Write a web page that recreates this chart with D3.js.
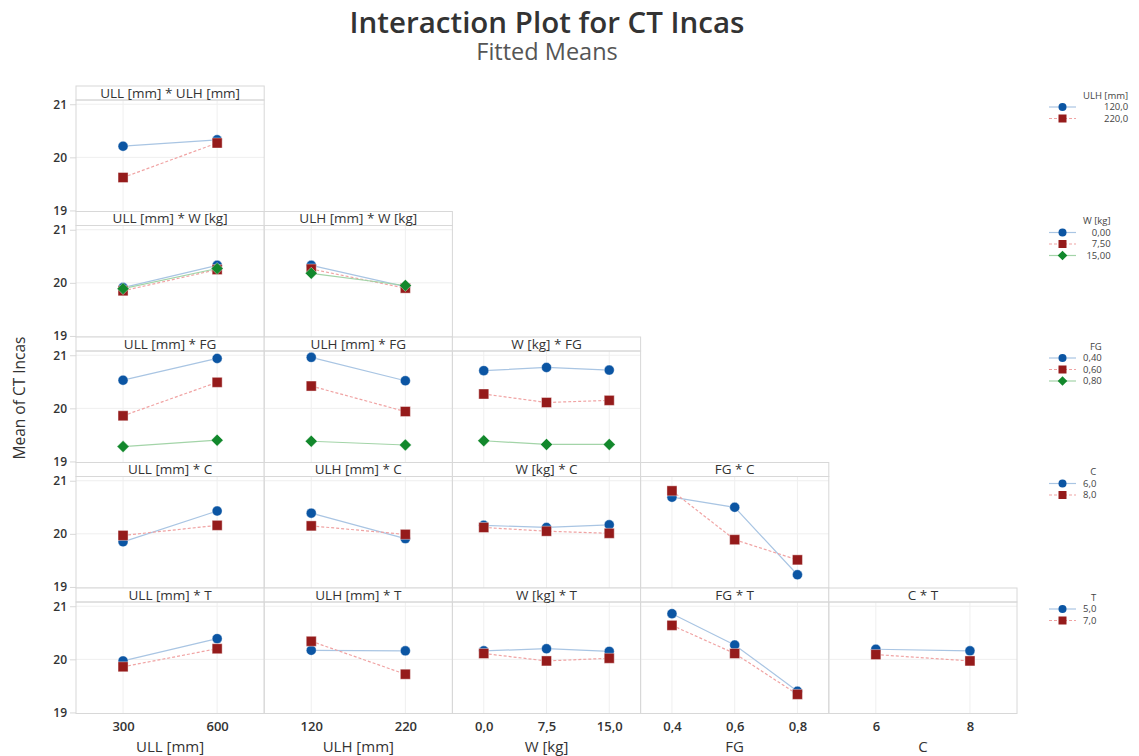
<!DOCTYPE html>
<html>
<head>
<meta charset="utf-8">
<script src="https://cdn.jsdelivr.net/npm/d3@7/dist/d3.min.js"></script>
<style>
  html, body { margin: 0; padding: 0; background: #fff; }
  svg { display: block; font-family: "Open Sans", "Noto Sans", sans-serif; }
</style>
</head>
<body>
<svg id="chart" width="1139" height="756"></svg>
<script>
// Factors on the x axis (columns) and trace factors (rows)
const xFactors = ["ULL [mm]", "ULH [mm]", "W [kg]", "FG", "C"];
const traceFactors = ["ULH [mm]", "W [kg]", "FG", "C", "T"];

// Tick labels for each x factor
const ullLevels = ["300", "600"];
const ulhLevels = ["120", "220"];
const wLevels = ["0,0", "7,5", "15,0"];
const fgLevels = ["0,4", "0,6", "0,8"];
const cLevels = ["6", "8"];

// Legend labels for each trace factor
const ulhTrace = ["120,0", "220,0"];
const wTrace = ["0,00", "7,50", "15,00"];
const fgTrace = ["0,40", "0,60", "0,80"];
const cTrace = ["6,0", "8,0"];
const tTrace = ["5,0", "7,0"];

// Fitted means: one inner array per trace level, one value per x level
const ullXulh = [[20.21, 20.33], [19.62, 20.27]];

const ullXw = [[19.91, 20.33], [19.85, 20.25], [19.89, 20.27]];
const ulhXw = [[20.33, 19.93], [20.26, 19.90], [20.18, 19.95]];

const ullXfg = [[20.53, 20.94], [19.86, 20.49], [19.28, 19.40]];
const ulhXfg = [[20.96, 20.52], [20.42, 19.94], [19.38, 19.31]];
const wXfg = [[20.71, 20.77, 20.72], [20.27, 20.11, 20.15], [19.39, 19.32, 19.32]];

const ullXc = [[19.85, 20.43], [19.97, 20.16]];
const ulhXc = [[20.39, 19.91], [20.15, 19.99]];
const wXc = [[20.16, 20.12, 20.17], [20.12, 20.05, 20.01]];
const fgXc = [[20.69, 20.50, 19.23], [20.81, 19.89, 19.51]];

const ullXt = [[19.97, 20.39], [19.86, 20.20]];
const ulhXt = [[20.17, 20.16], [20.34, 19.72]];
const wXt = [[20.16, 20.20, 20.15], [20.11, 19.97, 20.02]];
const fgXt = [[20.86, 20.27, 19.40], [20.64, 20.11, 19.34]];
const cXt = [[20.19, 20.16], [20.09, 19.97]];

const yTicks = [19, 20, 21];

// ---- assemble the grid ----
const xLevels = [ullLevels, ulhLevels, wLevels, fgLevels, cLevels];
const traceLevels = [ulhTrace, wTrace, fgTrace, cTrace, tTrace];
const panelData = [
  [ullXulh],
  [ullXw, ulhXw],
  [ullXfg, ulhXfg, wXfg],
  [ullXc, ulhXc, wXc, fgXc],
  [ullXt, ulhXt, wXt, fgXt, cXt]
];

const svg = d3.select("#chart");

const left = 76, colW = 188.2, top0 = 86, rowH = 125.5, stripH = 14;
const frameColor = "#d8d8d8", gridColor = "#efefef";

// Series styles: blue circles (solid), red squares (dashed), green diamonds (solid)
const styles = [
  { fill: "#0b55a3", line: "#a9c5e3", dash: null, shape: "circle" },
  { fill: "#951b1b", line: "#f0a3a3", dash: "3,2", shape: "square" },
  { fill: "#12882c", line: "#a3d4a8", dash: null, shape: "diamond" }
];

function markerPath(shape, s) {
  if (shape === "circle") return d3.symbol(d3.symbolCircle, Math.PI * s * s)();
  if (shape === "square") return d3.symbol(d3.symbolSquare, (2 * s) * (2 * s))();
  const d = s * 1.2;
  return `M0,${-d}L${d},0L0,${d}L${-d},0Z`;
}

// Title block
svg.append("text")
  .attr("x", 547).attr("y", 33)
  .attr("text-anchor", "middle")
  .attr("font-size", 29.5).attr("font-weight", 600).attr("fill", "#333")
  .text("Interaction Plot for CT Incas");
svg.append("text")
  .attr("x", 547).attr("y", 60)
  .attr("text-anchor", "middle")
  .attr("font-size", 23.5).attr("fill", "#555")
  .text("Fitted Means");

// Y axis title
svg.append("text")
  .attr("transform", "translate(25,398) rotate(-90)")
  .attr("text-anchor", "middle")
  .attr("font-size", 15.5).attr("fill", "#333")
  .text("Mean of CT Incas");

const line = d3.line();

panelData.forEach((rowPanels, r) => {
  const rowTop = top0 + r * rowH;
  const plotTop = rowTop + stripH;
  const plotBottom = rowTop + rowH;
  const y = d3.scaleLinear().domain([18.98, 21.08]).range([plotBottom, plotTop]);

  // y axis for the row
  const yAxis = d3.axisLeft(y).tickValues(yTicks).tickSize(6).tickPadding(3).tickFormat(d3.format("d"));
  const ga = svg.append("g").attr("transform", `translate(${left},0)`).call(yAxis);
  ga.select(".domain").remove();
  ga.selectAll(".tick line").attr("stroke", frameColor);
  ga.selectAll(".tick text").attr("font-size", 12).attr("font-weight", 600)
    .attr("fill", "#333").attr("font-family", "'Open Sans', sans-serif");

  rowPanels.forEach((series, c) => {
    const x0 = left + c * colW;
    const x = d3.scalePoint().domain(xLevels[c]).range([x0, x0 + colW]).padding(0.5);
    const g = svg.append("g");

    // gridlines
    g.selectAll(".hg").data([20, 21]).join("line")
      .attr("x1", x0).attr("x2", x0 + colW)
      .attr("y1", d => y(d)).attr("y2", d => y(d))
      .attr("stroke", gridColor).attr("stroke-width", 1);
    g.selectAll(".vg").data(xLevels[c]).join("line")
      .attr("x1", d => x(d)).attr("x2", d => x(d))
      .attr("y1", plotTop).attr("y2", plotBottom)
      .attr("stroke", gridColor).attr("stroke-width", 1);

    // strip and frame
    g.append("rect").attr("x", x0).attr("y", rowTop).attr("width", colW).attr("height", stripH)
      .attr("fill", "#fff").attr("stroke", frameColor);
    g.append("rect").attr("x", x0).attr("y", plotTop).attr("width", colW).attr("height", rowH - stripH)
      .attr("fill", "none").attr("stroke", frameColor);
    g.append("text")
      .attr("x", x0 + colW / 2).attr("y", rowTop + stripH / 2 + 4.5)
      .attr("text-anchor", "middle").attr("font-size", 13.5).attr("fill", "#333")
      .text(`${xFactors[c]} * ${traceFactors[r]}`);

    // traces
    series.forEach((vals, k) => {
      const st = styles[k];
      const pts = vals.map((v, i) => [x(xLevels[c][i]), y(v)]);
      g.append("path").attr("d", line(pts)).attr("fill", "none")
        .attr("stroke", st.line).attr("stroke-width", 1.2)
        .attr("stroke-dasharray", st.dash);
    });
    series.forEach((vals, k) => {
      const st = styles[k];
      g.selectAll(null).data(vals).join("path")
        .attr("transform", (v, i) => `translate(${x(xLevels[c][i])},${y(v)})`)
        .attr("d", markerPath(st.shape, 5))
        .attr("fill", st.fill)
        .attr("stroke", "#fff").attr("stroke-width", 0.4);
    });

    // bottom axis on last row
    if (r === panelData.length - 1) {
      const xa = d3.axisBottom(x).tickSize(0).tickPadding(8);
      const gx = svg.append("g").attr("transform", `translate(0,${plotBottom})`).call(xa);
      gx.select(".domain").remove();
      gx.selectAll(".tick text").attr("font-size", 13).attr("font-weight", 600)
        .attr("fill", "#333").attr("font-family", "'Open Sans', sans-serif");
      svg.append("text")
        .attr("x", x0 + colW / 2).attr("y", 752)
        .attr("text-anchor", "middle").attr("font-size", 15).attr("fill", "#333")
        .text(xFactors[c]);
    }
  });

  // legend for the row's trace factor
  const lg = svg.append("g").attr("font-size", 9.5).attr("fill", "#444");
  const titleY = rowTop + 9.5;
  const texts = [traceFactors[r], ...traceLevels[r]];
  const tNodes = texts.map((t, i) => lg.append("text")
    .attr("y", titleY + 11.5 * i + 3.4)
    .attr("text-anchor", "end").text(t));
  const maxW = d3.max(tNodes, n => n.node().getComputedTextLength());
  tNodes.forEach(n => n.attr("x", 1083 + maxW));
  traceLevels[r].forEach((lab, k) => {
    const st = styles[k];
    const cy = titleY + 11.5 * (k + 1);
    lg.append("line").attr("x1", 1049).attr("x2", 1076).attr("y1", cy).attr("y2", cy)
      .attr("stroke", st.line).attr("stroke-width", 1.2).attr("stroke-dasharray", st.dash);
    lg.append("path").attr("transform", `translate(1062.5,${cy})`)
      .attr("d", markerPath(st.shape, 4)).attr("fill", st.fill);
  });
});
</script>
</body>
</html>
